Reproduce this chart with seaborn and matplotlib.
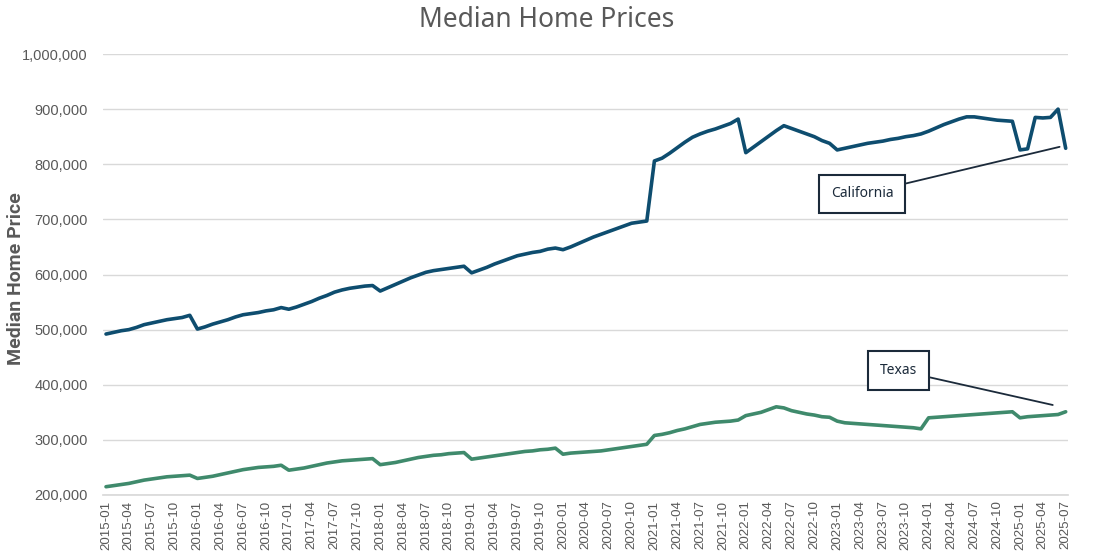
import numpy as np
import pandas as pd
import seaborn as sns
import matplotlib.pyplot as plt

# Monthly median home prices, 2015-01 .. 2025-07
months = pd.date_range('2015-01-01', '2025-07-01', freq='MS').strftime('%Y-%m').tolist()

california = [
    492000, 495000, 498000, 500000, 504000, 509000, 512000, 515000, 518000, 520000, 522000, 526000,  # 2015
    501000, 505000, 510000, 514000, 518000, 523000, 527000, 529000, 531000, 534000, 536000, 540000,  # 2016
    537000, 541000, 546000, 551000, 557000, 562000, 568000, 572000, 575000, 577000, 579000, 580000,  # 2017
    570000, 576000, 582000, 588000, 594000, 599000, 604000, 607000, 609000, 611000, 613000, 615000,  # 2018
    603000, 608000, 613000, 619000, 624000, 629000, 634000, 637000, 640000, 642000, 646000, 648000,  # 2019
    645000, 650000, 656000, 662000, 668000, 673000, 678000, 683000, 688000, 693000, 695000, 697000,  # 2020
    806000, 811000, 820000, 830000, 840000, 849000, 855000, 860000, 864000, 869000, 874000, 882000,  # 2021
    821000, 831000, 841000, 851000, 861000, 870000, 865000, 860000, 855000, 850000, 843000, 838000,  # 2022
    826000, 829000, 832000, 835000, 838000, 840000, 842000, 845000, 847000, 850000, 852000, 855000,  # 2023
    860000, 866000, 872000, 877000, 882000, 886000, 886000, 884000, 882000, 880000, 879000, 878000,  # 2024
    826000, 828000, 885000, 884000, 885000, 900000, 829000,                                          # 2025
]

texas = [
    215000, 217000, 219000, 221000, 224000, 227000, 229000, 231000, 233000, 234000, 235000, 236000,  # 2015
    230000, 232000, 234000, 237000, 240000, 243000, 246000, 248000, 250000, 251000, 252000, 254000,  # 2016
    245000, 247000, 249000, 252000, 255000, 258000, 260000, 262000, 263000, 264000, 265000, 266000,  # 2017
    255000, 257000, 259000, 262000, 265000, 268000, 270000, 272000, 273000, 275000, 276000, 277000,  # 2018
    265000, 267000, 269000, 271000, 273000, 275000, 277000, 279000, 280000, 282000, 283000, 285000,  # 2019
    274000, 276000, 277000, 278000, 279000, 280000, 282000, 284000, 286000, 288000, 290000, 292000,  # 2020
    308000, 310000, 313000, 317000, 320000, 324000, 328000, 330000, 332000, 333000, 334000, 336000,  # 2021
    344000, 347000, 350000, 355000, 360000, 358000, 353000, 350000, 347000, 345000, 342000, 341000,  # 2022
    334000, 331000, 330000, 329000, 328000, 327000, 326000, 325000, 324000, 323000, 322000, 320000,  # 2023
    340000, 341000, 342000, 343000, 344000, 345000, 346000, 347000, 348000, 349000, 350000, 351000,  # 2024
    340000, 342000, 343000, 344000, 345000, 346000, 351000,                                          # 2025
]

yticks = [200000, 300000, 400000, 500000, 600000, 700000, 800000, 900000, 1000000]

df = pd.DataFrame({'month': months, 'California': california, 'Texas': texas})
df['idx'] = np.arange(len(df))
long_df = df.melt(id_vars=['month', 'idx'], value_vars=['California', 'Texas'],
                  var_name='State', value_name='Price')

sns.set_theme(style='white')
plt.rcParams['font.family'] = ['Liberation Sans', 'DejaVu Sans']

grey = '#595959'
fig = plt.figure(figsize=(10.93, 5.54), dpi=100)
ax = fig.add_axes([0.0942, 0.1065, 0.8829, 0.796])

sns.lineplot(data=long_df, x='idx', y='Price', hue='State',
             palette={'California': '#0e4d6f', 'Texas': '#3f8a6c'},
             linewidth=2.6, legend=False, ax=ax)

ax.set_xlim(-0.4, len(df) - 1 + 0.3)
ax.set_ylim(200000, 1000000)
ax.set_yticks(yticks)
ax.set_yticklabels([f'{v:,}' for v in yticks])
ax.set_xticks(df['idx'][::3])
ax.set_xticklabels(df['month'][::3], rotation=90)
ax.tick_params(axis='y', labelsize=10.5, colors=grey, length=0, pad=11)
ax.tick_params(axis='x', labelsize=9.6, colors=grey, length=0, pad=4)
ax.grid(axis='y', color='#d9d9d9', linewidth=1)
ax.set_axisbelow(True)
for s in ['top', 'right', 'left']:
    ax.spines[s].set_visible(False)
ax.spines['bottom'].set_color('#d9d9d9')

ax.set_xlabel('')
ax.set_ylabel('Median Home Price', fontsize=14, fontweight='bold', color=grey,
              family=['Roboto', 'DejaVu Sans'])
ax.yaxis.set_label_coords(-0.081, 0.49)
fig.suptitle('Median Home Prices', y=0.99, fontsize=19, color=grey,
             family=['Noto Sans', 'DejaVu Sans'])

box = dict(boxstyle='square,pad=0.85', fc='white', ec='#1b2a3a', lw=1.5)
arrow = dict(arrowstyle='-', color='#1b2a3a', lw=1.3, shrinkA=0, shrinkB=0)
ax.annotate('California', xy=(125.2, 831600), xytext=(99.3, 746300),
            fontsize=10, color='#1b2a3a', ha='center', va='center',
            family=['Noto Sans', 'DejaVu Sans'], bbox=box, arrowprops=arrow)
ax.annotate('Texas', xy=(124.3, 363300), xytext=(104.1, 426000),
            fontsize=10, color='#1b2a3a', ha='center', va='center',
            family=['Noto Sans', 'DejaVu Sans'], bbox=box, arrowprops=arrow)

fig.savefig('out.png', dpi=100)
